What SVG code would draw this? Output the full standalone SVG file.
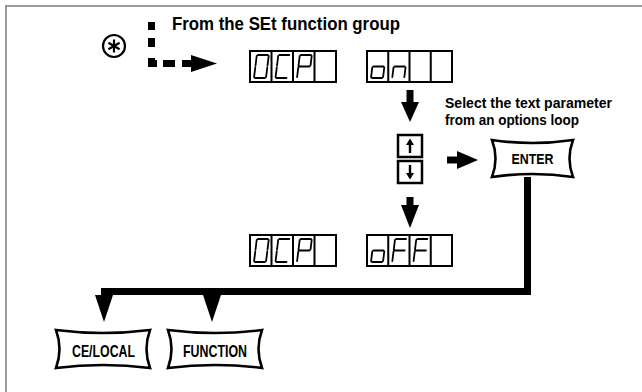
<svg xmlns="http://www.w3.org/2000/svg" xmlns:xlink="http://www.w3.org/1999/xlink" width="642" height="392" viewBox="0 0 642 392">
<style>
.frame{fill:none;stroke:#9a9a9a;stroke-width:2}
.disp{fill:#fff;stroke:#000;stroke-width:2}
.div{stroke:#000;stroke-width:2}
.seg{fill:none;stroke:#000;stroke-width:1.8;stroke-linecap:round}
.key{fill:#fff;stroke:#000;stroke-width:2.5;stroke-linejoin:miter}
.btn{fill:#fff;stroke:#000;stroke-width:2.6;stroke-linejoin:miter}
.lbl{font-family:"Liberation Sans",Arial,sans-serif;font-weight:bold;fill:#000}
.thick{fill:none;stroke:#000;stroke-width:7;stroke-linejoin:miter}
.head{fill:#000}
.thin{fill:none;stroke:#000;stroke-width:2.4}
</style>
<defs>
<g id="d0" transform="translate(3.3,0) skewX(-7)"><path class="seg" d="M5,4H15 M16,5V14.5 M16,16.5V26 M5,27H15 M4,16.5V26 M4,5V14.5"/></g>
<g id="dC" transform="translate(3.3,0) skewX(-7)"><path class="seg" d="M5,4H15 M4,5V14.5 M4,16.5V26 M5,27H15"/></g>
<g id="dP" transform="translate(3.3,0) skewX(-7)"><path class="seg" d="M5,4H15 M16,5V14.5 M4,5V14.5 M5,15.5H15 M4,16.5V26"/></g>
<g id="do" transform="translate(3.3,0) skewX(-7)"><path class="seg" d="M5,15.5H15 M16,16.5V26 M5,27H15 M4,16.5V26"/></g>
<g id="dn" transform="translate(3.3,0) skewX(-7)"><path class="seg" d="M5,15.5H15 M16,16.5V26 M4,16.5V26"/></g>
<g id="dF" transform="translate(3.3,0) skewX(-7)"><path class="seg" d="M5,4H15 M4,5V14.5 M5,15.5H15 M4,16.5V26"/></g>
</defs>

<rect class="frame" x="6" y="6" width="645" height="395"/>

<g id="star">
<circle cx="114" cy="46" r="11" fill="none" stroke="#000" stroke-width="2.2"/>
<path d="M114,39.5V52.5 M108.4,42.75L119.6,49.25 M108.4,49.25L119.6,42.75" stroke="#000" stroke-width="2.2" stroke-linecap="butt"/>
</g>

<g id="title">
<text class="lbl" x="172" y="30" font-size="17.5" textLength="228" lengthAdjust="spacingAndGlyphs">From the SEt function group</text>
</g>

<g id="disp-ocp-top">
<rect class="disp" x="250" y="51" width="86" height="31"/>
<path class="div" d="M271.5,51V82 M293,51V82 M314.5,51V82"/>
<use xlink:href="#d0" x="250" y="51"/>
<use xlink:href="#dC" x="271.5" y="51"/>
<use xlink:href="#dP" x="293" y="51"/>
</g>

<g id="disp-on">
<rect class="disp" x="367" y="51" width="85" height="31"/>
<path class="div" d="M388.25,51V82 M409.5,51V82 M430.75,51V82"/>
<use xlink:href="#do" x="367" y="51"/>
<use xlink:href="#dn" x="388.25" y="51"/>
</g>

<g id="disp-ocp-bottom">
<rect class="disp" x="250" y="235" width="86" height="31"/>
<path class="div" d="M271.5,235V266 M293,235V266 M314.5,235V266"/>
<use xlink:href="#d0" x="250" y="235"/>
<use xlink:href="#dC" x="271.5" y="235"/>
<use xlink:href="#dP" x="293" y="235"/>
</g>

<g id="disp-off">
<rect class="disp" x="367" y="235" width="85" height="31"/>
<path class="div" d="M388.25,235V266 M409.5,235V266 M430.75,235V266"/>
<use xlink:href="#do" x="367" y="235"/>
<use xlink:href="#dF" x="388.25" y="235"/>
<use xlink:href="#dF" x="409.5" y="235"/>
</g>

<g id="updown-keys">
<rect class="key" x="398" y="135" width="24" height="22"/>
<path class="thin" d="M410,144V153"/>
<polygon class="head" points="406,145 414,145 410,138.5"/>
<rect class="key" x="398" y="161" width="24" height="22"/>
<path class="thin" d="M410,165V174"/>
<polygon class="head" points="406,173 414,173 410,179.5"/>
</g>

<g id="hint">
<text class="lbl" x="445" y="108" font-size="15" textLength="167" lengthAdjust="spacingAndGlyphs">Select the text parameter</text>
<text class="lbl" x="445" y="125" font-size="15" textLength="134" lengthAdjust="spacingAndGlyphs">from an options loop</text>
</g>

<g id="enter-key">
<path class="btn" d="M492,140 Q532.5,146 573,140 Q566,158.5 573,177 Q532.5,171 492,177 Q499,158.5 492,140 Z"/>
<text class="lbl" x="532.5" y="164" font-size="15" text-anchor="middle" textLength="42" lengthAdjust="spacingAndGlyphs">ENTER</text>
</g>

<g id="celocal-key">
<path class="btn" d="M56,330 Q103,336 150,330 Q143,349 150,368 Q103,362 56,368 Q63,349 56,330 Z"/>
<text class="lbl" x="103.5" y="356.5" font-size="17" text-anchor="middle" textLength="63" lengthAdjust="spacingAndGlyphs">CE/LOCAL</text>
</g>

<g id="function-key">
<path class="btn" d="M168,330 Q215,336 262,330 Q255,349 262,368 Q215,362 168,368 Q175,349 168,330 Z"/>
<text class="lbl" x="215" y="356.5" font-size="17" text-anchor="middle" textLength="64" lengthAdjust="spacingAndGlyphs">FUNCTION</text>
</g>

<g id="connectors">
<path class="thick" d="M151.5,22V63.5H192" stroke-dasharray="8 8 9 11 11 6 12 7 10 100"/>
<polygon class="head" points="191,55 217,63.5 191,72"/>

<path class="thick" d="M410,90V103"/>
<polygon class="head" points="401,102 419,102 410,122"/>

<path class="thick" d="M410,197V206"/>
<polygon class="head" points="401,205 419,205 410,228"/>

<path class="thick" d="M447,160H458"/>
<polygon class="head" points="457,151 478,160 457,169"/>

<path class="thick" d="M527.5,177V291.5H101"/>
<polygon class="head" points="95,295 113,295 104,322"/>
<polygon class="head" points="203,295 221,295 212,322"/>
</g>
</svg>
